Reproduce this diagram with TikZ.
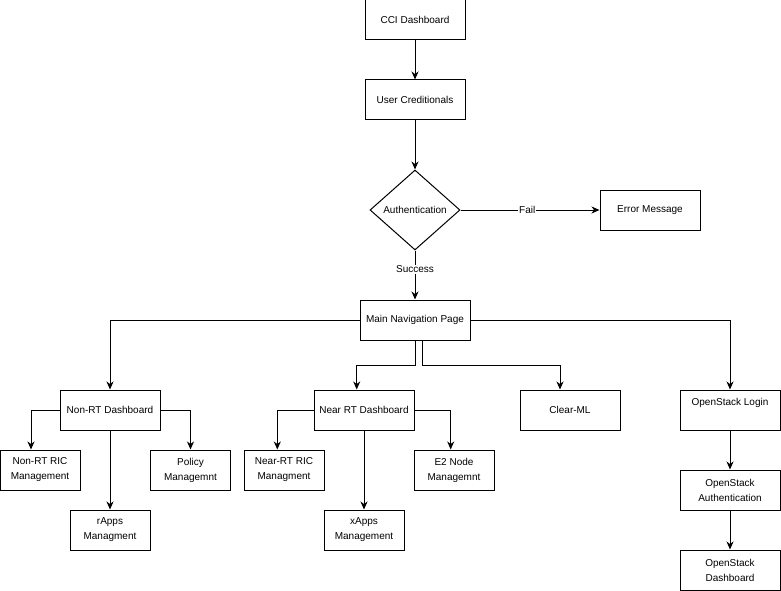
\documentclass[tikz,border=0pt]{standalone}
\usepackage{fontspec}
\setmainfont{Liberation Sans}
\usetikzlibrary{shapes.geometric,arrows.meta}

\begin{document}
\begin{tikzpicture}[x=1pt,y=-1pt,
    box/.style={draw,line width=1pt,minimum width=100pt,minimum height=40pt,inner sep=1pt,
      align=center,font=\fontsize{10}{15}\selectfont},
    smallbox/.style={box,minimum width=80pt},
    decision/.style={draw,diamond,line width=1pt,minimum width=90pt,minimum height=80pt,
      aspect=1.125,inner sep=0pt,font=\fontsize{10}{12}\selectfont},
    arr/.style={line width=1pt,-{Stealth[length=8pt,width=7pt,inset=2.5pt]}},
    lbl/.style={fill=white,inner sep=1pt,font=\fontsize{10}{12}\selectfont}]
  \useasboundingbox[fill=white] (0,0) rectangle (781,591);

  % login part
  \node[box] (cci) at (415,20) {CCI Dashboard};
  \node[box] (cred) at (415,100) {User Creditionals};
  \node[decision] (auth) at (415,210) {Authentication};
  \node[box] (err) at (650,210) {Error Message};
  \node[box,minimum width=110pt] (main) at (415,320) {Main Navigation Page};

  % dashboards
  \node[box] (nonrt) at (110,410) {Non-RT Dashboard};
  \node[box] (nearrt) at (364,410) {Near RT Dashboard};
  \node[box] (clearml) at (570,410) {Clear-ML};
  \node[box,text depth=16pt] (oslogin) at (730,410) {OpenStack Login};

  \node[smallbox] (nonrtric) at (40,470) {Non-RT RIC\\Management};
  \node[smallbox] (policy) at (190.5,470) {Policy\\Managemnt};
  \node[smallbox] (rapps) at (110,530) {rApps\\Managment};
  \node[smallbox] (nearric) at (284,470) {Near-RT RIC\\Managment};
  \node[smallbox] (e2) at (454,470) {E2 Node\\Managemnt};
  \node[smallbox] (xapps) at (364,530) {xApps\\Management};
  \node[box] (osauth) at (730,490) {OpenStack\\Authentication};
  \node[box] (osdash) at (730,570) {OpenStack\\Dashboard};

  \draw[arr] (cci) -- (cred);
  \draw[arr] (cred) -- (auth);
  \draw[arr] (auth) -- (err) node[lbl,pos=0.48] {Fail};
  \draw[arr] (auth) -- (main) node[lbl,pos=0.38] {Success};

  \draw[arr] (main.west) -| (nonrt.north);
  \draw[arr] (main.east) -| (oslogin.north);
  \draw[arr] (main.south) -- ++(0,25) -| ([xshift=-7.3pt]nearrt.north);
  \draw[arr] ([xshift=7.3pt]main.south) -- ++(0,25) -| ([xshift=-10pt]clearml.north);

  \draw[arr] (nonrt.west) -| ([xshift=-9pt]nonrtric.north);
  \draw[arr] (nonrt.east) -| (policy.north);
  \draw[arr] (nonrt) -- (rapps);
  \draw[arr] (nearrt.west) -| ([xshift=-6.7pt]nearric.north);
  \draw[arr] (nearrt.east) -| ([xshift=-3.3pt]e2.north);
  \draw[arr] (nearrt) -- (xapps);
  \draw[arr] (oslogin) -- (osauth);
  \draw[arr] (osauth) -- (osdash);
\end{tikzpicture}
\end{document}
